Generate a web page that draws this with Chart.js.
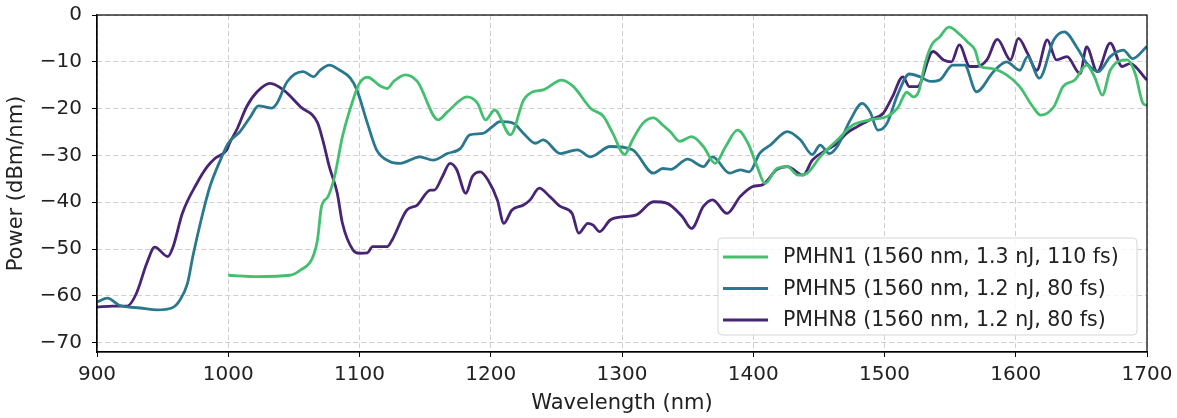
<!DOCTYPE html>
<html>
<head>
<meta charset="utf-8">
<script src="https://cdn.jsdelivr.net/npm/chart.js@4.4.0/dist/chart.umd.min.js"></script>
<style>
    html, body { margin: 0; padding: 0; background: #fff; }
    #wrap { width: 1177px; height: 418px; }
</style>
</head>
<body>
<div id="wrap"><canvas id="spectrumChart"></canvas></div>
<script>
// series names and colours
const seriesLabels = [
    'PMHN1 (1560 nm, 1.3 nJ, 110 fs)',
    'PMHN5 (1560 nm, 1.2 nJ, 80 fs)',
    'PMHN8 (1560 nm, 1.2 nJ, 80 fs)'
];
const seriesColors = ['#44bf70', '#2a788e', '#482475'];

const xTicks = [900, 1000, 1100, 1200, 1300, 1400, 1500, 1600, 1700];
const yTicks = [0, -10, -20, -30, -40, -50, -60, -70];

// PMHN1 (green)
const pmhn1Wl = [1000, 1022, 1047, 1055, 1064, 1068, 1071, 1076, 1081, 1087, 1095, 1100, 1106, 1116, 1121, 1126, 1135, 1144, 1160, 1167,
    1182, 1190, 1196, 1203, 1215, 1225, 1232, 1240, 1254, 1263, 1276, 1286, 1293, 1302, 1308, 1316, 1324, 1331, 1337, 1344,
    1353, 1362, 1371, 1379, 1388, 1396, 1403, 1409, 1418, 1426, 1434, 1441, 1451, 1464, 1476, 1489, 1502, 1510, 1517, 1522,
    1526, 1531, 1536, 1542, 1549, 1558, 1563, 1569, 1573, 1581, 1593, 1603, 1613, 1619, 1629, 1636, 1645, 1654, 1660, 1666,
    1672, 1685, 1691, 1697, 1700];
const pmhn1Pw = [-55.6, -55.9, -55.6, -54.5, -52, -48, -41, -38.8, -34.5, -26, -18.2, -14.6, -13.3, -15.2, -15.7, -14.2, -12.8, -14.2, -22.4, -20.7,
    -17.5, -18.9, -22.4, -20.3, -25.6, -18.2, -16.4, -16, -13.9, -15.3, -19.9, -21.7, -25.3, -29.8, -26.7, -23.1, -22, -23.5, -25, -27,
    -26, -28.1, -31.7, -28.1, -24.6, -27.4, -32.4, -36, -32.8, -32.4, -34.2, -33.8, -30.3, -26.7, -23.5, -22.4, -21.7, -19.9, -16.5, -17.5,
    -16.4, -10.3, -6.4, -4.7, -2.6, -4.3, -5.7, -7.5, -11, -11.4, -12.8, -15.3, -19.6, -21.4, -19.6, -15.3, -13.9, -10.7, -13.2, -17.1,
    -11.8, -9.6, -12.5, -18.9, -19.3];

// PMHN5 (teal)
const pmhn5Wl = [900, 908, 917, 933, 946, 957, 963, 969, 973, 980, 986, 994, 1000, 1009, 1017, 1023, 1033, 1037, 1045, 1057,
    1065, 1070, 1077, 1085, 1093, 1098, 1106, 1113, 1123, 1131, 1146, 1156, 1167, 1177, 1184, 1194, 1201, 1207, 1217, 1225,
    1234, 1240, 1253, 1266, 1276, 1291, 1308, 1324, 1331, 1337, 1350, 1362, 1369, 1382, 1390, 1397, 1405, 1413, 1426, 1436,
    1445, 1451, 1458, 1464, 1474, 1483, 1489, 1495, 1502, 1510, 1519, 1527, 1535, 1542, 1552, 1561, 1570, 1583, 1593, 1603,
    1609, 1618, 1629, 1637, 1647, 1654, 1663, 1672, 1682, 1689, 1700];
const pmhn5Pw = [-61.3, -60.5, -62, -62.6, -63, -62.6, -61, -57.3, -51.6, -43, -36.7, -31, -27.4, -24.9, -21.7, -19.4, -19.9, -18.9, -14.2, -12.1,
    -13.2, -11.8, -10.7, -11.8, -13.5, -16, -23.1, -28.8, -31.3, -31.7, -30.3, -31, -29.6, -28.5, -25.6, -25.3, -23.9, -22.8, -23.1, -25.3,
    -27.4, -26.7, -29.6, -28.8, -30.3, -28.1, -28.8, -33.8, -32.8, -33, -30.8, -32.4, -30.3, -33.8, -33.1, -33.5, -29.5, -27.8, -24.9, -26.7,
    -29.8, -27.8, -29.6, -28.1, -22.4, -18.9, -20.7, -24.6, -23.1, -17, -12.6, -13.2, -14.2, -13.9, -10.7, -10.7, -16.4, -12.1, -10, -11.8,
    -8.9, -13.5, -5.3, -3.6, -7.1, -10.3, -12.1, -8.9, -7.5, -9.3, -6.7];

// PMHN8 (purple)
const pmhn8Wl = [900, 912, 923, 930, 938, 944, 954, 958, 965, 976, 984, 990, 999, 1001, 1007, 1014, 1022, 1032, 1042, 1055,
    1068, 1072, 1077, 1083, 1087, 1095, 1100, 1106, 1110, 1118, 1121, 1125, 1136, 1144, 1154, 1157, 1163, 1169, 1174, 1181,
    1186, 1192, 1198, 1205, 1210, 1216, 1225, 1230, 1237, 1245, 1253, 1262, 1267, 1274, 1278, 1283, 1291, 1301, 1311, 1324,
    1334, 1346, 1353, 1362, 1369, 1380, 1390, 1400, 1407, 1418, 1426, 1438, 1445, 1456, 1464, 1471, 1479, 1489, 1499, 1506,
    1514, 1519, 1525, 1537, 1545, 1551, 1557, 1565, 1570, 1578, 1586, 1596, 1602, 1609, 1616, 1624, 1631, 1639, 1649, 1654,
    1662, 1672, 1681, 1687, 1700];
const pmhn8Pw = [-62.4, -62.2, -62.2, -59.5, -53, -49.6, -51.6, -49.5, -42.4, -36, -32.4, -30.6, -28.8, -27.4, -24.2, -19.6, -16.4, -14.6, -16, -19.6,
    -23, -26.7, -32.4, -38, -44.5, -50.2, -50.9, -50.8, -49.5, -49.5, -49.5, -48, -41.7, -40.6, -37.4, -37.4, -34.6, -31.7, -33, -38.1,
    -34.5, -33.5, -35.3, -39.5, -44.5, -41.7, -40.6, -39.5, -37, -38.8, -40.9, -42.4, -46.6, -44.5, -44.9, -46.3, -43.8, -43.1, -42.7, -39.9,
    -40.2, -43.1, -45.6, -40.9, -39.5, -42.4, -38.8, -36.6, -36.3, -33, -32.4, -34.2, -31, -28.8, -27.4, -25.3, -23.9, -22.4, -21, -17.5,
    -13.2, -15.3, -15.3, -7.8, -9.6, -10, -6.4, -11, -11, -9.6, -5.2, -9.6, -5, -8.2, -11.8, -5.3, -9.6, -8.9, -12.5, -6.8,
    -12.1, -6, -11, -10.4, -13.9];

const FONT = "'DejaVu Sans', 'Liberation Sans', sans-serif";

function toPoints(xs, ys) {
    return xs.map((x, i) => ({ x: x, y: ys[i] }));
}

const allSeries = [
    toPoints(pmhn1Wl, pmhn1Pw),
    toPoints(pmhn5Wl, pmhn5Pw),
    toPoints(pmhn8Wl, pmhn8Pw)
];

const datasets = allSeries.map((pts, i) => ({
    label: seriesLabels[i],
    data: pts,
    borderColor: seriesColors[i],
    backgroundColor: seriesColors[i],
    borderWidth: 2.8,
    pointRadius: 0,
    fill: false,
    cubicInterpolationMode: 'monotone'
}));

// matplotlib-like frame all around the plot
const framePlugin = {
    id: 'frame',
    afterDatasetsDraw(chart) {
        const a = chart.chartArea;
        const ctx = chart.ctx;
        ctx.save();
        ctx.strokeStyle = '#000';
        ctx.lineWidth = 1.2;
        ctx.strokeRect(a.left, a.top, a.right - a.left, a.bottom - a.top);
        ctx.restore();
    }
};

// legend box in the lower right corner of the plot
const boxLegend = {
    id: 'boxLegend',
    afterDraw(chart) {
        const ctx = chart.ctx;
        const a = chart.chartArea;
        const w = 419, h = 97;
        const x0 = a.right - 10 - w;
        const y0 = a.bottom - 17 - h;
        ctx.save();
        ctx.beginPath();
        ctx.roundRect(x0, y0, w, h, 4);
        ctx.fillStyle = 'rgba(255,255,255,0.8)';
        ctx.fill();
        ctx.strokeStyle = '#d6d6d6';
        ctx.lineWidth = 1;
        ctx.stroke();
        ctx.font = '20.5px ' + FONT;
        ctx.textBaseline = 'middle';
        chart.data.datasets.forEach((ds, i) => {
            const yy = y0 + 19 + i * 31.5;
            ctx.strokeStyle = ds.borderColor;
            ctx.lineWidth = 3;
            ctx.beginPath();
            ctx.moveTo(x0 + 5, yy);
            ctx.lineTo(x0 + 50, yy);
            ctx.stroke();
            ctx.fillStyle = '#222';
            ctx.fillText(ds.label, x0 + 65, yy + 1);
        });
        ctx.restore();
    }
};

new Chart(document.getElementById('spectrumChart'), {
    type: 'line',
    data: { datasets: datasets },
    options: {
        responsive: true,
        maintainAspectRatio: false,
        animation: false,
        layout: { padding: { top: 15, right: 30, left: 0, bottom: 0 } },
        plugins: {
            legend: { display: false },
            tooltip: { enabled: false }
        },
        scales: {
            x: {
                type: 'linear',
                min: 900,
                max: 1700,
                afterBuildTicks: scale => { scale.ticks = xTicks.map(v => ({ value: v })); },
                afterFit: scale => {
                    scale.height = 66;
                    scale.paddingLeft = 0;
                    scale.paddingRight = 0;
                },
                grid: {
                    color: '#cfcfcf',
                    tickColor: '#000',
                    tickLength: 5,
                    tickBorderDash: []
                },
                border: { display: true, color: '#000', width: 1.2, dash: [5, 3] },
                ticks: {
                    color: '#222',
                    font: { family: FONT, size: 20 },
                    padding: 6,
                    maxRotation: 0,
                    callback: v => String(v)
                },
                title: {
                    display: true,
                    text: 'Wavelength (nm)',
                    color: '#222',
                    font: { family: FONT, size: 21 },
                    padding: { top: 2, bottom: 2 }
                }
            },
            y: {
                type: 'linear',
                min: -72,
                max: 0,
                afterBuildTicks: scale => { scale.ticks = yTicks.map(v => ({ value: v })); },
                afterFit: scale => {
                    scale.width = 97;
                    scale.paddingTop = 0;
                    scale.paddingBottom = 0;
                },
                grid: {
                    color: '#cfcfcf',
                    tickColor: '#000',
                    tickLength: 5,
                    tickBorderDash: []
                },
                border: { display: true, color: '#000', width: 1.2, dash: [5, 3] },
                ticks: {
                    color: '#222',
                    font: { family: FONT, size: 20 },
                    padding: 10,
                    callback: v => String(v).replace('-', '\u2212')
                },
                title: {
                    display: true,
                    text: 'Power (dBm/nm)',
                    color: '#222',
                    font: { family: FONT, size: 21 },
                    padding: { top: 4, bottom: 0 }
                }
            }
        }
    },
    plugins: [framePlugin, boxLegend]
});
</script>
</body>
</html>
